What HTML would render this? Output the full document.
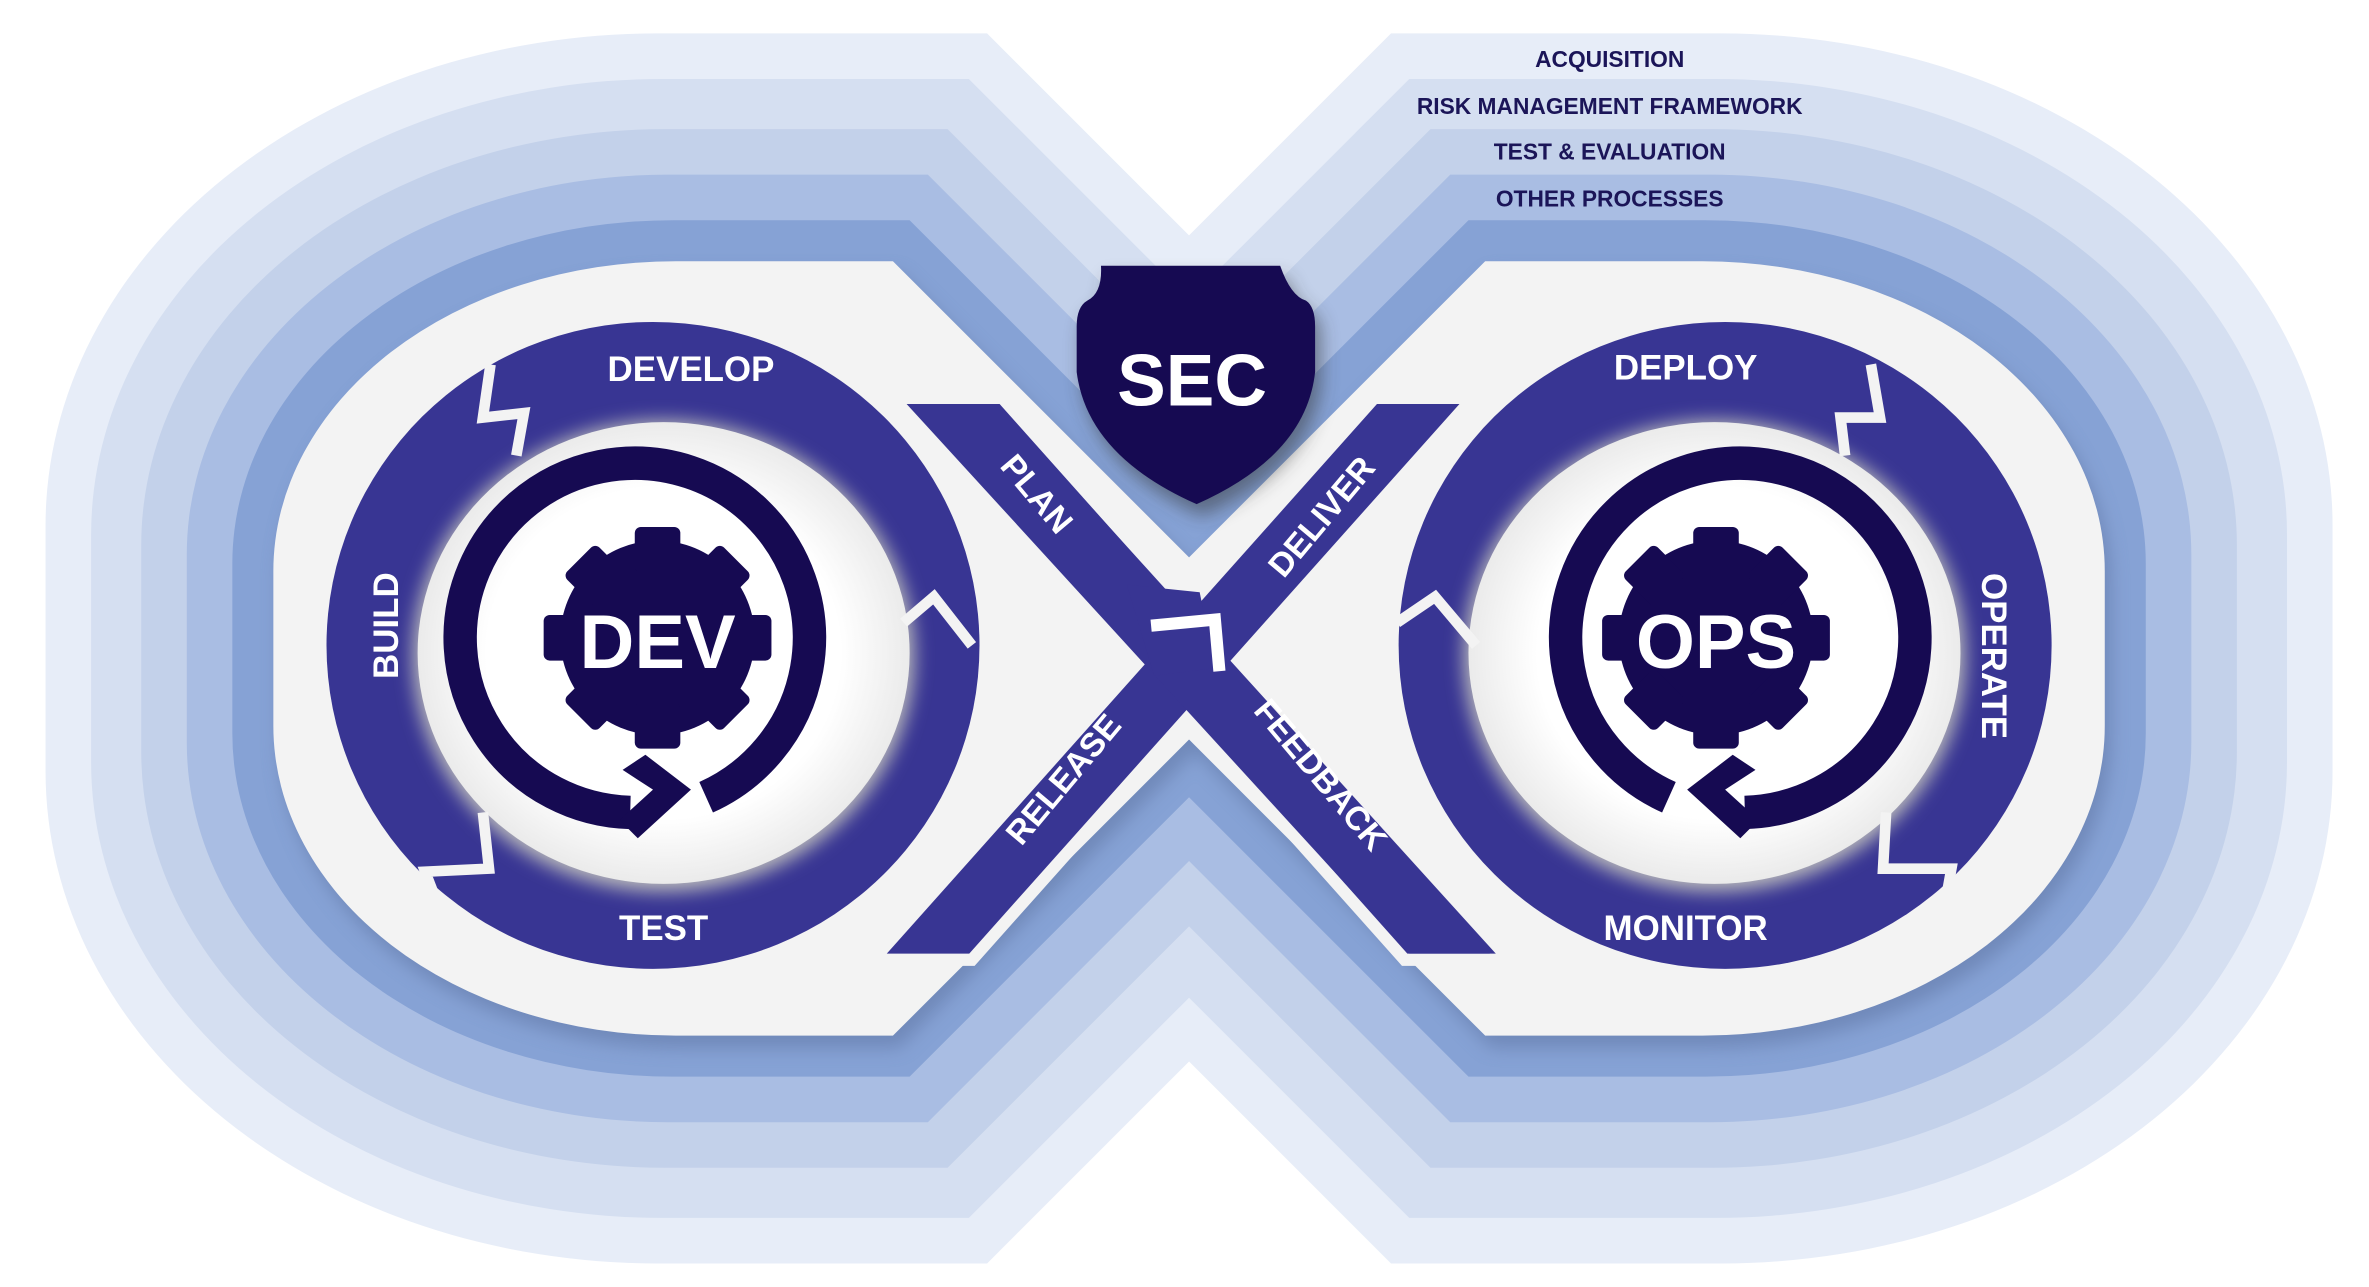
<!DOCTYPE html>
<html><head><meta charset="utf-8"><style>
html,body{margin:0;padding:0;background:#fff;}
svg{display:block;}
text{font-family:"Liberation Sans",sans-serif;font-weight:bold;}
</style></head><body>
<svg width="2369" height="1287" viewBox="0 0 1560 847.5" preserveAspectRatio="none" xmlns="http://www.w3.org/2000/svg">
<defs>
<filter id="sh" x="-10%" y="-10%" width="120%" height="120%"><feGaussianBlur stdDeviation="6"/></filter>
<radialGradient id="wg" cx="50%" cy="50%" r="60%"><stop offset="0.6" stop-color="#ffffff"/><stop offset="1" stop-color="#dcdcdc"/></radialGradient>
</defs>
<rect width="1560" height="847.5" fill="#fff"/>
<path fill="#e7edf8" d="M783,155 L650,22 L433,22 A403 324 0 0 0 30,346 L30,508 A403 324 0 0 0 433,832 L650,832 L783,699 L916,832 L1133,832 A403 324 0 0 0 1536,508 L1536,346 A403 324 0 0 0 1133,22 L916,22 Z"/>
<path fill="#d5dff1" d="M783,197 L638,52 L436,52 A376 300 0 0 0 60,352 L60,502 A376 300 0 0 0 436,802 L638,802 L783,657 L928,802 L1130,802 A376 300 0 0 0 1506,502 L1506,352 A376 300 0 0 0 1130,52 L928,52 Z"/>
<path fill="#c3d1ea" d="M783,244 L624,85 L438,85 A345 274 0 0 0 93,359 L93,495 A345 274 0 0 0 438,769 L624,769 L783,610 L942,769 L1128,769 A345 274 0 0 0 1473,495 L1473,359 A345 274 0 0 0 1128,85 L942,85 Z"/>
<path fill="#a9bde3" d="M783,287 L611,115 L440,115 A317 250 0 0 0 123,365 L123,489 A317 250 0 0 0 440,739 L611,739 L783,567 L955,739 L1126,739 A317 250 0 0 0 1443,489 L1443,365 A317 250 0 0 0 1126,115 L955,115 Z"/>
<path fill="#86a2d5" d="M783,329 L599,145 L443,145 A290 226 0 0 0 153,371 L153,483 A290 226 0 0 0 443,709 L599,709 L783,525 L967,709 L1123,709 A290 226 0 0 0 1413,483 L1413,371 A290 226 0 0 0 1123,145 L967,145 Z"/>
<path fill="#5a6f9e" opacity="0.5" filter="url(#sh)" transform="translate(4,8)" d="M783,367 L588,172 L445,172 A265 204 0 0 0 180,376 L180,478 A265 204 0 0 0 445,682 L588,682 L783,487 L978,682 L1121,682 A265 204 0 0 0 1386,478 L1386,376 A265 204 0 0 0 1121,172 L978,172 Z"/>
<path fill="#f3f3f3" d="M783,367 L588,172 L445,172 A265 204 0 0 0 180,376 L180,478 A265 204 0 0 0 445,682 L588,682 L783,487 L978,682 L1121,682 A265 204 0 0 0 1386,478 L1386,376 A265 204 0 0 0 1121,172 L978,172 Z"/>
<ellipse cx="430" cy="425" rx="215" ry="213" fill="#383593"/>
<ellipse cx="1136" cy="425" rx="215" ry="213" fill="#383593"/>
<ellipse cx="437" cy="432" rx="165" ry="155" fill="#bbb" filter="url(#sh)"/>
<ellipse cx="437" cy="430" rx="162" ry="152" fill="url(#wg)"/>
<ellipse cx="1129" cy="432" rx="165" ry="155" fill="#bbb" filter="url(#sh)"/>
<ellipse cx="1129" cy="430" rx="162" ry="152" fill="url(#wg)"/>
<g fill="none" stroke="#f3f3f3" stroke-width="7">
<polyline points="323,240 318,275 345,272 340,300"/>
<polyline points="318,535 322,572 280,574 290,600"/>
<polyline points="595,410 615,393 640,425"/>
<polyline points="1232,240 1238,275 1212,275 1215,300"/>
<polyline points="1242,535 1240,572 1285,572 1280,600"/>
<polyline points="920,410 945,393 972,425"/>
</g>
<g stroke="#f3f3f3" stroke-width="8" fill="#383593">
<polygon points="595,262 660,262 990,632 925,632"/>
<polygon points="905,262 970,262 640,632 575,632"/>
</g>
<polygon fill="#383593" points="597,266 657,266 985,628 928,628"/>
<polygon fill="#383593" points="742,385 790,390 800,440 760,445"/>
<polyline points="758,412 800,408 803,442" fill="none" stroke="#fff" stroke-width="8"/>
<path fill="#333" opacity="0.5" filter="url(#sh)" transform="translate(4,8)" d="M725,175 L843,175 Q850,195 860,198 Q866,202 866,215 L866,245 Q860,300 788,332 Q716,300 709,245 L709,215 Q709,202 716,198 Q726,193 725,175 Z"/>
<path fill="#160a52" d="M725,175 L843,175 Q850,195 860,198 Q866,202 866,215 L866,245 Q860,300 788,332 Q716,300 709,245 L709,215 Q709,202 716,198 Q726,193 725,175 Z"/>
<text x="785" y="267" font-size="48" fill="#fff" text-anchor="middle">SEC</text>
<g fill="none" stroke="#160a52" stroke-width="22">
<path d="M415,535 A115 115 0 1 1 465,525"/>
<path d="M1149,535 A115 115 0 1 0 1099,525"/>
</g>
<polygon fill="#160a52" points="425,497 455,520 420,552 408,540 430,520 410,507"/>
<polygon fill="#160a52" points="1141,497 1111,520 1146,552 1158,540 1136,520 1156,507"/>
<g fill="#160a52">
<circle cx="433" cy="420" r="64"/>
<g id="teeth">
<rect x="418" y="347" width="30" height="30" rx="4"/>
<rect x="418" y="463" width="30" height="30" rx="4"/>
<rect x="358" y="405" width="30" height="30" rx="4"/>
<rect x="478" y="405" width="30" height="30" rx="4"/>
<rect x="418" y="347" width="30" height="30" rx="4" transform="rotate(45 433 420)"/>
<rect x="418" y="347" width="30" height="30" rx="4" transform="rotate(-45 433 420)"/>
<rect x="418" y="347" width="30" height="30" rx="4" transform="rotate(135 433 420)"/>
<rect x="418" y="347" width="30" height="30" rx="4" transform="rotate(-135 433 420)"/>
</g>
<circle cx="1130" cy="420" r="64"/>
<use href="#teeth" transform="translate(697,0)"/>
</g>
<text x="433" y="440" font-size="50" fill="#fff" text-anchor="middle">DEV</text>
<text x="1130" y="440" font-size="50" fill="#fff" text-anchor="middle">OPS</text>
<g fill="#fff" font-size="23" text-anchor="middle">
<text x="455" y="251">DEVELOP</text>
<text x="437" y="619">TEST</text>
<text x="1110" y="250">DEPLOY</text>
<text x="1110" y="619">MONITOR</text>
<text transform="translate(262,412) rotate(-90)">BUILD</text>
<text transform="translate(1305,432) rotate(90)">OPERATE</text>
<text transform="translate(677,330) rotate(50)" font-size="22">PLAN</text>
<text transform="translate(876,345) rotate(-50)" font-size="22">DELIVER</text>
<text transform="translate(706,518) rotate(-50)" font-size="22">RELEASE</text>
<text transform="translate(864,515) rotate(50)" font-size="22">FEEDBACK</text>
</g>
<g fill="#1b1558" font-size="15" text-anchor="middle">
<text x="1060" y="44">ACQUISITION</text>
<text x="1060" y="75">RISK MANAGEMENT FRAMEWORK</text>
<text x="1060" y="105">TEST &amp; EVALUATION</text>
<text x="1060" y="136">OTHER PROCESSES</text>
</g>
</svg>
</body></html>
